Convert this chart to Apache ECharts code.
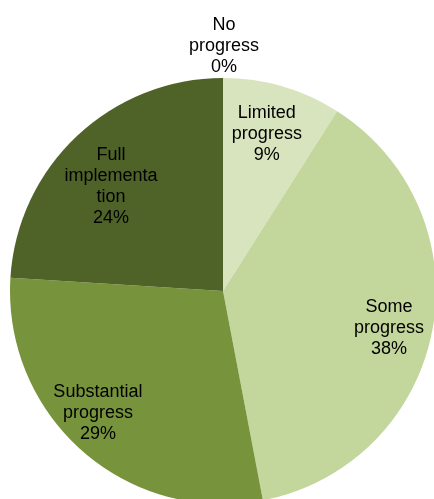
<!DOCTYPE html>
<html>
<head>
<meta charset="utf-8">
<script src="https://cdn.jsdelivr.net/npm/echarts@6/dist/echarts.min.js"></script>
<style>
html,body{margin:0;padding:0;background:#fff;}
#c{width:434px;height:499px;}
</style>
</head>
<body>
<div id="c"></div>
<script>
// Categories (display text with the original line breaks)
const categories = ['No\nprogress', 'Limited\nprogress', 'Some\nprogress', 'Substantial\nprogress', 'Full\nimplementa\ntion'];
// Slice shares (%)
const sliceValues = [0, 9, 38, 29, 24];
// Percent labels as printed on the chart
const percentLabels = ['0%', '9%', '38%', '29%', '24%'];
// Slice colours
const sliceColors = ['#d7e4bd', '#d7e4bd', '#c3d69b', '#77933c', '#4f6228'];
// Small label placement nudges [dx, dy] (styling only)
const labelNudge = [[1, 4], [-3, 4], [1, 6], [-14, -4], [3, 18]];

const chart = echarts.init(document.getElementById('c'), null, {renderer: 'canvas'});

const baseData = categories.map((c, i) => ({
  name: c,
  value: sliceValues[i],
  itemStyle: {color: sliceColors[i]}
}));

const labelText = (p) => categories[p.dataIndex] + '\n' + percentLabels[p.dataIndex];
const labelStyle = {
  show: true,
  position: 'inside',
  formatter: labelText,
  fontFamily: '"Liberation Sans", Arial, sans-serif',
  fontSize: 18,
  lineHeight: 21,
  color: '#000'
};

const common = {
  type: 'pie',
  center: [223, 291],
  startAngle: 90,
  clockwise: true,
  avoidLabelOverlap: false,
  animation: false
};

const nudge = (p) => ({dx: labelNudge[p.dataIndex][0], dy: labelNudge[p.dataIndex][1]});

chart.setOption({
  backgroundColor: '#fff',
  animation: false,
  series: [
    Object.assign({}, common, {
      name: 'slices',
      radius: [0, 213],
      label: {show: false},
      labelLine: {show: false},
      itemStyle: {borderWidth: 0},
      emphasis: {disabled: true},
      data: baseData
    }),
    Object.assign({}, common, {
      name: 'labels',
      radius: [117, 213],
      silent: true,
      emphasis: {disabled: true},
      labelLine: {show: false},
      labelLayout: nudge,
      itemStyle: {color: 'rgba(0,0,0,0)', borderWidth: 0},
      data: baseData.map((d, i) => ({
        name: d.name, value: d.value,
        itemStyle: {color: 'rgba(0,0,0,0)'},
        label: Object.assign({}, labelStyle, {show: i > 0})
      }))
    }),
    Object.assign({}, common, {
      name: 'zeroLabel',
      radius: [213, 279],
      silent: true,
      emphasis: {disabled: true},
      labelLine: {show: false},
      labelLayout: nudge,
      itemStyle: {color: 'rgba(0,0,0,0)', borderWidth: 0},
      data: baseData.map((d, i) => ({
        name: d.name, value: d.value,
        itemStyle: {color: 'rgba(0,0,0,0)'},
        label: Object.assign({}, labelStyle, {show: i === 0})
      }))
    })
  ]
});
</script>
</body>
</html>
